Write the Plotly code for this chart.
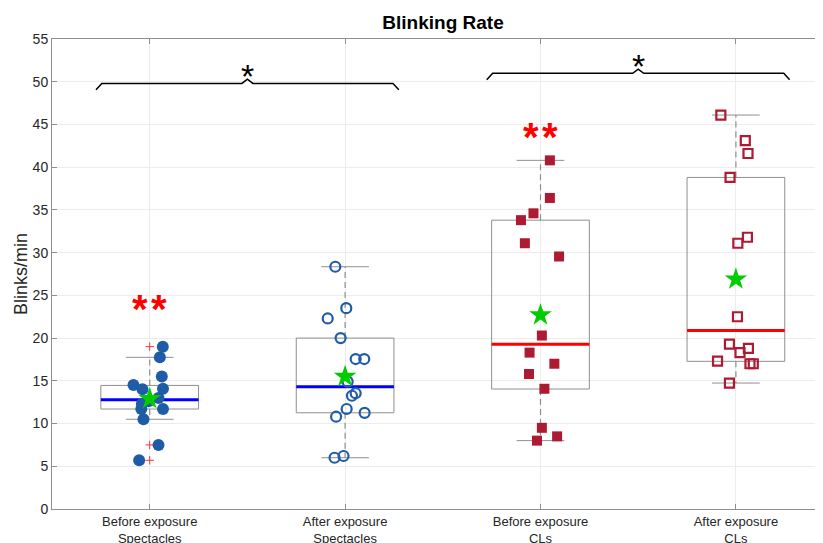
import plotly.graph_objects as go

# ---------------- data ----------------
categories = ["Before exposure<br>Spectacles", "After exposure<br>Spectacles",
              "Before exposure<br>CLs", "After exposure<br>CLs"]
positions = [1, 2, 3, 4]

vals_before_spec = [19.0, 17.75, 15.5, 14.5, 14.0, 14.07, 13.0, 12.6, 12.3, 11.7, 11.7, 10.5, 7.5, 5.7]
jit_before_spec = [0.067, 0.052, 0.062, -0.083, -0.037, 0.068, 0.045, -0.006, -0.04, -0.043, 0.068, -0.032, 0.045, -0.054]

vals_after_spec = [28.35, 23.5, 22.3, 20.0, 17.55, 17.55, 14.9, 13.55, 13.25, 11.7, 11.25, 10.8, 6.0, 6.2]
jit_after_spec = [-0.05, 0.006, -0.089, -0.023, 0.054, 0.098, 0.013, 0.054, 0.035, 0.008, 0.1, -0.046, -0.054, -0.008]

vals_before_cl = [40.8, 36.4, 34.6, 33.8, 31.1, 29.55, 20.3, 18.3, 17.0, 15.8, 14.07, 9.5, 8.5, 8.0]
jit_before_cl = [0.048, 0.048, -0.036, -0.1, -0.08, 0.095, 0.007, -0.056, 0.071, -0.059, 0.02, 0.007, 0.085, -0.018]

vals_after_cl = [46.1, 43.1, 41.6, 38.8, 31.8, 31.1, 22.5, 19.3, 18.8, 18.3, 17.3, 17.0, 17.0, 14.74]
jit_after_cl = [-0.077, 0.048, 0.062, -0.03, 0.059, 0.01, 0.008, -0.033, 0.064, 0.021, -0.094, 0.072, 0.089, -0.033]

q1 = [11.7, 11.26, 14.04, 17.28]
medians = [12.78, 14.3, 19.27, 20.9]
q3 = [14.46, 20.0, 33.8, 38.8]
lower_whisker = [10.5, 6.0, 8.0, 14.74]
upper_whisker = [17.75, 28.35, 40.8, 46.1]
means = [12.9, 15.5, 22.7, 26.9]
outliers_before_spec = [19.0, 7.5, 5.7]

# significance brackets: (from, to, height), and "**" marks (position, height)
brackets = [(1, 2, 49.8), (3, 4, 50.98)]
double_star_pos = [1, 3]
double_star_y = [24.0, 44.1]

# ---------------- styles ----------------
BOX_HALF = 0.25
CAP_HALF = 0.122
GRAY = "#8f8f8f"
BLUE_PT = "#1f5ca8"
RED_PT = "#ad1a32"
median_colors = ["#0000ff", "#0000ff", "#ff0000", "#ff0000"]

fig = go.Figure()

# boxes, whiskers, caps
for i, p in enumerate(positions):
    fig.add_trace(go.Scatter(
        x=[p - BOX_HALF, p + BOX_HALF, p + BOX_HALF, p - BOX_HALF, p - BOX_HALF],
        y=[q1[i], q1[i], q3[i], q3[i], q1[i]],
        mode="lines", line=dict(color=GRAY, width=1), hoverinfo="skip"))
    fig.add_trace(go.Scatter(
        x=[p, p, None, p, p], y=[q3[i], upper_whisker[i], None, q1[i], lower_whisker[i]],
        mode="lines", line=dict(color=GRAY, width=1.2, dash="6px,4px"), hoverinfo="skip"))
    fig.add_trace(go.Scatter(
        x=[p - CAP_HALF, p + CAP_HALF, None, p - CAP_HALF, p + CAP_HALF],
        y=[upper_whisker[i], upper_whisker[i], None, lower_whisker[i], lower_whisker[i]],
        mode="lines", line=dict(color=GRAY, width=1), hoverinfo="skip"))
    fig.add_trace(go.Scatter(
        x=[p - BOX_HALF, p + BOX_HALF], y=[medians[i], medians[i]],
        mode="lines", line=dict(color=median_colors[i], width=3), hoverinfo="skip"))

# outliers of group 1
fig.add_trace(go.Scatter(
    x=[positions[0]] * len(outliers_before_spec), y=outliers_before_spec, mode="markers",
    marker=dict(symbol="cross-thin", size=6, line=dict(color="#ff3030", width=1))))

groups = [
    (vals_before_spec, jit_before_spec, "circle", BLUE_PT, 12),
    (vals_after_spec, jit_after_spec, "circle-open", BLUE_PT, 10),
    (vals_before_cl, jit_before_cl, "square", RED_PT, 10),
    (vals_after_cl, jit_after_cl, "square-open", RED_PT, 9),
]
for i, (vals, jit, sym, col, sz) in enumerate(groups):
    xs = [positions[i] + j for j in jit]
    if sym.endswith("open"):
        mk = dict(symbol=sym, size=sz, color=col, line=dict(color=col, width=2.2))
    else:
        mk = dict(symbol=sym, size=sz, color=col, line=dict(width=0))
    fig.add_trace(go.Scatter(x=xs, y=vals, mode="markers", marker=mk))

# means
fig.add_trace(go.Scatter(
    x=positions, y=means, mode="markers",
    marker=dict(symbol="star", size=17, color="#00cc00", line=dict(width=0))))

# brackets
for a, b, h in brackets:
    mid = (a + b) / 2 + 0.0
    xs = [a - 0.275, a - 0.245, mid - 0.028, mid, mid + 0.028, b + 0.245, b + 0.275]
    ys = [h - 0.75, h, h, h + 0.5, h, h, h - 0.75]
    fig.add_trace(go.Scatter(x=xs, y=ys, mode="lines",
                             line=dict(color="black", width=1.5), hoverinfo="skip"))
    fig.add_annotation(x=mid, y=h + 0.9, text="*", showarrow=False,
                       font=dict(size=34, color="black", family="Liberation Sans"))

for p, yv in zip(double_star_pos, double_star_y):
    fig.add_annotation(x=p, y=yv - 0.6, text="<b>*\u200a*</b>", showarrow=False,
                       font=dict(size=40, color="#ff0000", family="Liberation Sans"))

# page body has an 8px default margin; compensate so the plot sits where the reference has it
OFF = 8
W, H = 823 - OFF, 543 - OFF
L, R, T = 52 - OFF, 0, 39 - OFF
B = H - (509 - OFF)
fig.update_layout(
    width=W, height=H,
    margin=dict(l=L, r=R, t=T, b=B, autoexpand=False),
    paper_bgcolor="white", plot_bgcolor="white",
    showlegend=False,
    font=dict(family="Liberation Sans", color="#262626", size=13),
    title=dict(text="<b>Blinking Rate</b>", x=(443 - OFF) / W, xref="container", xanchor="center",
               y=1 - (22 - OFF) / H, yref="container", yanchor="middle",
               font=dict(size=19, color="#000000", family="Liberation Sans")),
    xaxis=dict(range=[0.5, 0.5 + (W - L - R) / 195.4], tickvals=positions, ticktext=categories,
               automargin=False,
               showgrid=True, gridcolor="#ececec", gridwidth=1, zeroline=False,
               showline=True, linecolor=GRAY, linewidth=1, mirror="ticks",
               ticks="inside", ticklen=5, tickcolor=GRAY,
               tickfont=dict(size=13, color="#262626")),
    yaxis=dict(range=[0, 55], tickvals=list(range(0, 56, 5)), automargin=False,
               showgrid=True, gridcolor="#ececec", gridwidth=1, zeroline=False,
               showline=True, linecolor=GRAY, linewidth=1,
               ticks="inside", ticklen=5, tickcolor=GRAY,
               tickfont=dict(size=14, color="#262626"),
               title=dict(text="Blinks/min", font=dict(size=18, color="#262626"), standoff=0)),
)

fig.write_html("out.html")
